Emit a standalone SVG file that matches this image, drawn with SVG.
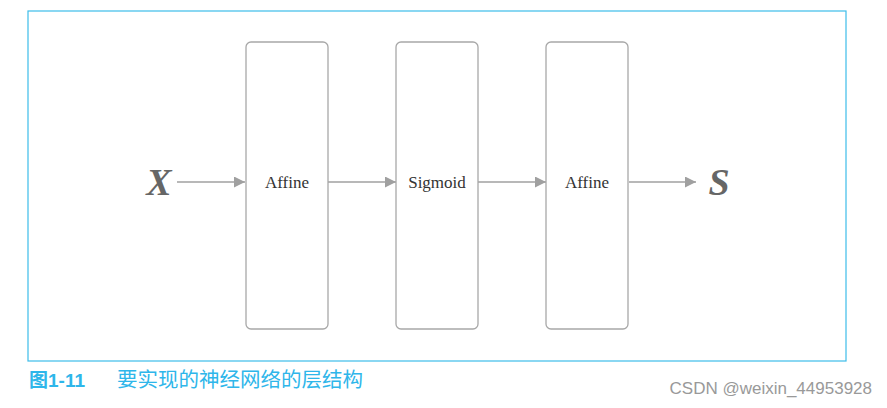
<svg xmlns="http://www.w3.org/2000/svg" width="887" height="408" viewBox="0 0 887 408">
<defs>
<marker id="ah" viewBox="0 0 10 10" refX="10" refY="5" markerWidth="13" markerHeight="11" markerUnits="userSpaceOnUse" orient="auto"><path d="M0,0 L10,5 L0,10 Z" fill="#a0a0a0"/></marker>
<style>
.box{fill:#fff;stroke:#a8a8a8;stroke-width:1.3}
.lbl{font-family:"Liberation Serif",serif;font-size:17px;fill:#333;text-anchor:middle}
.var{font-family:"Liberation Serif",serif;font-size:38px;font-weight:bold;font-style:italic;fill:#666;text-anchor:middle}
.c{stroke:#a0a0a0;stroke-width:1.3;fill:none;marker-end:url(#ah)}
</style>
</defs>
<rect width="887" height="408" fill="#fff"/>
<rect x="28" y="11" width="818" height="350" fill="none" stroke="#3dbde9" stroke-width="1.2"/>
<g id="connectors">
<line class="c" x1="177" y1="182" x2="245" y2="182"/>
<line class="c" x1="328" y1="182" x2="396" y2="182"/>
<line class="c" x1="478" y1="182" x2="546" y2="182"/>
<line class="c" x1="629" y1="182" x2="696" y2="182"/>
</g>
<g id="X"><text class="var" x="159" y="195">X</text></g>
<g id="affine1"><rect class="box" x="246" y="42" width="82" height="287" rx="5"/><text class="lbl" x="287" y="188">Affine</text></g>
<g id="sigmoid"><rect class="box" x="396" y="42" width="82" height="287" rx="5"/><text class="lbl" x="437" y="188">Sigmoid</text></g>
<g id="affine2"><rect class="box" x="546" y="42" width="82" height="287" rx="5"/><text class="lbl" x="587" y="188">Affine</text></g>
<g id="S"><text class="var" x="719" y="195">S</text></g>
<text x="29" y="387" font-family="Liberation Sans,'Noto Sans CJK SC',sans-serif" font-size="19" font-weight="bold" fill="#2eb6ea">图1-11</text>
<text x="117" y="387" font-family="'Noto Sans CJK SC',sans-serif" font-size="20.5" fill="#2eb6ea">要实现的神经网络的层结构</text>
<text x="872" y="394" text-anchor="end" font-family="'Liberation Sans',sans-serif" font-size="17" fill="#999">CSDN @weixin_44953928</text>
</svg>
